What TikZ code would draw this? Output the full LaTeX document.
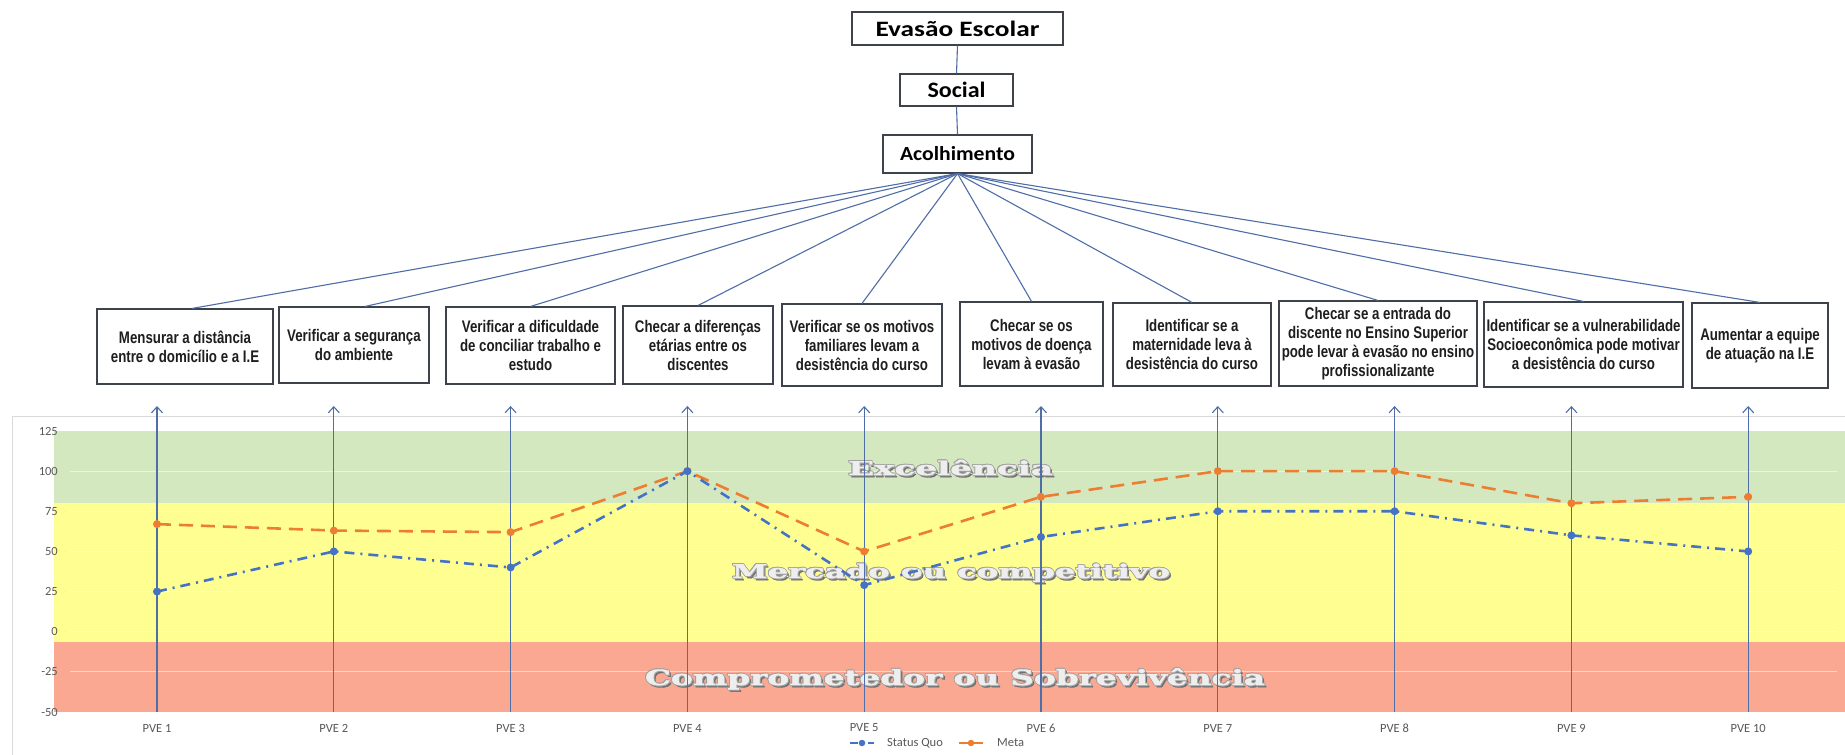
\documentclass[tikz,border=0pt]{standalone}
\usepackage{graphicx}
\usepackage{fontspec}
\setmainfont{Liberation Sans}
\newfontfamily\boxfont[FakeStretch=0.79]{Liberation Sans}
\newfontfamily\titlefont{Carlito}
\newfontfamily\bandfont[FakeBold=1.6]{DejaVu Serif}
\usetikzlibrary{arrows.meta,calc}

\definecolor{linkblue}{RGB}{79,110,168}
\definecolor{boxedge}{RGB}{62,66,74}
\definecolor{boxtext}{RGB}{30,30,30}
\definecolor{bandgreen}{RGB}{212,232,192}
\definecolor{bandyellow}{RGB}{255,255,145}
\definecolor{bandred}{RGB}{250,168,146}
\definecolor{sqblue}{RGB}{68,114,196}
\definecolor{metaorange}{RGB}{237,125,49}
\definecolor{axisgray}{RGB}{89,89,89}
\definecolor{framegray}{RGB}{217,217,217}
\definecolor{labelfill}{RGB}{238,238,238}
\definecolor{labeledge}{RGB}{160,160,160}
\definecolor{labelshade}{RGB}{110,110,110}

\tikzset{
  toptitle/.style={draw=boxedge, line width=1.2pt, inner sep=0pt, text=black,
    font=\titlefont\bfseries},
  goalbox/.style={draw=boxedge, line width=1.1pt, inner sep=1pt, align=center,
    text=boxtext, font=\boxfont\bfseries\fontsize{16.8}{19}\selectfont},
  link/.style={draw=linkblue, line width=1.1pt},
  pvearrow/.style={draw=linkblue, line width=1.2pt,
    -{Straight Barb[length=6pt,width=11pt,line width=1.1pt]}},
  gridrule/.style={draw=white, opacity=0.55, line width=1pt},
  axislabel/.style={text=axisgray, font=\titlefont\fontsize{12.5}{14}\selectfont, inner sep=0pt},
  sqline/.style={draw=sqblue, line width=2.6pt,
    dash pattern=on 10pt off 6pt on 2pt off 6pt},
  metaline/.style={draw=metaorange, line width=2.6pt, dash pattern=on 14pt off 8pt},
  sqdot/.style={circle, fill=sqblue, minimum size=8pt, inner sep=0pt},
  metadot/.style={circle, fill=metaorange, minimum size=8pt, inner sep=0pt},
  bandtext/.style={text=labelfill, inner sep=0pt,
    font=\bandfont\bfseries\fontsize{19}{19}\selectfont},
  bandedge/.style={text=labeledge, inner sep=0pt,
    font=\bandfont\bfseries\fontsize{19}{19}\selectfont},
  bandshade/.style={text=labelshade, inner sep=0pt,
    font=\bandfont\bfseries\fontsize{19}{19}\selectfont},
}

% embossed zone caption: name, x, baseline y, width, text
\newcommand\zonecaption[5]{%
  \node[bandshade, anchor=base] (#1-sh) at ($(#2,#3)+(2,2.2)$)
    {\resizebox{#4pt}{\height}{#5}};
  \foreach \dx/\dy [count=\k] in {-0.9/0,0.9/0,0/-0.9,0/0.9,0.9/0.9,-0.9/-0.9}
    \node[bandedge, anchor=base] (#1-e\k) at ($(#2,#3)+(\dx,\dy)$)
      {\resizebox{#4pt}{\height}{#5}};
  \node[bandtext, anchor=base] (#1) at (#2,#3)
    {\resizebox{#4pt}{\height}{#5}};
}

\begin{document}
\begin{tikzpicture}[x=1pt, y=-1pt]
\useasboundingbox (0,0) rectangle (1845,755);
\fill[white] (0,0) rectangle (1845,755);

% ---- hierarchy ----
\node[toptitle, minimum width=211pt, minimum height=33pt] (evasao) at (957.5,28.5)
  {\resizebox{164pt}{\height}{\fontsize{22}{24}\selectfont Evasão Escolar}};
\node[toptitle, minimum width=113pt, minimum height=32pt] (social) at (956.5,90)
  {\resizebox{58pt}{\height}{\fontsize{22}{24}\selectfont Social}};
\node[toptitle, minimum width=149pt, minimum height=38pt] (acolh) at (957.5,154)
  {\resizebox{115pt}{\height}{\fontsize{20}{22}\selectfont Acolhimento}};

\node[goalbox, minimum width=176pt, minimum height=75pt] (b1) at (185,346.5)
  {Mensurar a distância\\entre o domicílio e a I.E};
\node[goalbox, minimum width=150pt, minimum height=76pt] (b2) at (354,345)
  {Verificar a segurança\\do ambiente};
\node[goalbox, minimum width=169pt, minimum height=77pt] (b3) at (530.5,345.5)
  {Verificar a dificuldade\\de conciliar trabalho e\\estudo};
\node[goalbox, minimum width=150pt, minimum height=78pt] (b4) at (698,345)
  {Checar a diferenças\\etárias entre os\\discentes};
\node[goalbox, minimum width=160pt, minimum height=82pt] (b5) at (862,345)
  {Verificar se os motivos\\familiares levam a\\desistência do curso};
\node[goalbox, minimum width=143pt, minimum height=84pt] (b6) at (1031.5,344)
  {Checar se os\\motivos de doença\\levam à evasão};
\node[goalbox, minimum width=158pt, minimum height=83pt] (b7) at (1192,344.5)
  {Identificar se a\\maternidade leva à\\desistência do curso};
\node[goalbox, minimum width=198pt, minimum height=85pt] (b8) at (1378,343.5)
  {Checar se a entrada do\\discente no Ensino Superior\\pode levar à evasão no ensino\\profissionalizante};
\node[goalbox, minimum width=199pt, minimum height=85pt] (b9) at (1583.5,344.5)
  {Identificar se a vulnerabilidade\\Socioeconômica pode motivar\\a desistência do curso};
\node[goalbox, minimum width=136pt, minimum height=85pt] (b10) at (1760,345.5)
  {Aumentar a equipe\\de atuação na I.E};

\draw[link] (evasao.south) -- (social.north);
\draw[link] (social.south) -- (acolh.north);
\draw[link] (acolh.south) -- ([xshift=7pt]b1.north);
\draw[link] (acolh.south) -- ([xshift=11pt]b2.north);
\foreach \i in {3,...,10} \draw[link] (acolh.south) -- (b\i.north);

% ---- chart frame ----
\draw[framegray, line width=1pt] (12,770) -- (12,416) -- (1860,416);

% ---- chart body (value axis: 125 at top, -50 at bottom) ----
\begin{scope}[shift={(0,631.7)}, yscale=-1.6057]
  \fill[bandgreen]  (54,125) rectangle (1850,80);
  \fill[bandyellow] (54,80) rectangle (1850,-6.5);
  \fill[bandred]    (54,-6.5) rectangle (1850,-50);
  \foreach \v in {100,75,50,25,0,-25}
    \draw[gridrule] (70,\v) -- (1837,\v);
  \foreach \v in {125,100,75,50,25,0,-25,-50}
    \node[axislabel, anchor=east] (yl\v) at (58,\v) {\v};
  \foreach \x/\s/\m [count=\i] in {157/25/67, 333.8/50/63, 510.6/40/62,
      687.4/100/100, 864.2/29/50, 1041/59/84, 1217.8/75/100,
      1394.6/75/100, 1571.4/60/80, 1748.2/50/84} {
    \coordinate (sq\i) at (\x,\s);
    \coordinate (mt\i) at (\x,\m);
  }
\end{scope}

% ---- zone captions ----
\zonecaption{exc}{950.5}{475}{205}{Excelência}
\zonecaption{mer}{951}{578}{438}{Mercado ou competitivo}
\zonecaption{com}{955}{685}{620}{\fontsize{21}{21}\selectfont Comprometedor ou Sobrevivência}

% ---- series ----
\draw[metaline] (mt1) -- (mt2) -- (mt3) -- (mt4) -- (mt5) -- (mt6) -- (mt7)
  -- (mt8) -- (mt9) -- (mt10);
\draw[sqline] (sq1) -- (sq2) -- (sq3) -- (sq4) -- (sq5) -- (sq6) -- (sq7)
  -- (sq8) -- (sq9) -- (sq10);

% ---- arrows from each indicator up to its goal ----
\foreach \x [count=\i] in {157,333.8,510.6,687.4,864.2,1041,1217.8,1394.6,1571.4,1748.2} {
  \coordinate (ab\i) at (\x,712);
  \coordinate (at\i) at (\x,406);
  \draw[pvearrow] (ab\i) -- (at\i);
  \node[axislabel] (xl\i) at (\x,728) {PVE \i};
}

\foreach \i in {1,...,10} {
  \node[metadot] (mm\i) at (mt\i) {};
  \node[sqdot] (sm\i) at (sq\i) {};
}

% ---- legend ----
\coordinate (lsa) at (850,743);
\coordinate (lsb) at (874,743);
\draw[draw=sqblue, line width=2.4pt, dash pattern=on 8pt off 4pt on 2pt off 4pt] (lsa) -- (lsb);
\node[sqdot, minimum size=6.5pt] (lsd) at (862,743) {};
\node[axislabel, anchor=west] (lst) at (887,743) {Status Quo};
\coordinate (lma) at (959,743);
\coordinate (lmb) at (983,743);
\draw[draw=metaorange, line width=2.4pt] (lma) -- (lmb);
\node[metadot, minimum size=6.5pt] (lmd) at (971,743) {};
\node[axislabel, anchor=west] (lmt) at (997,743) {Meta};
\end{tikzpicture}
\end{document}
